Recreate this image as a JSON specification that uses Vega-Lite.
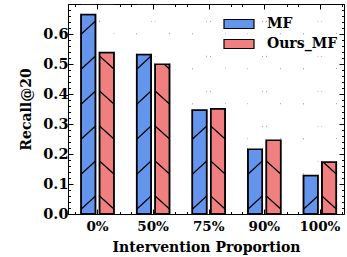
{
  "$schema": "https://vega.github.io/schema/vega-lite/v6.json",
  "width": 276,
  "height": 210,
  "autosize": {"type": "none"},
  "padding": {"left": 68, "top": 4, "right": 3, "bottom": 43},
  "config": {
    "font": "DejaVu Serif",
    "view": {"stroke": "black", "strokeWidth": 1},
    "axis": {"labelColor": "black", "titleColor": "black", "tickColor": "black", "domain": false, "grid": false, "labelFontWeight": "bold", "titleFontWeight": "bold", "labelFont": "DejaVu Serif", "titleFont": "DejaVu Serif", "zindex": 1}
  },
  "data": {
    "values": [
      {"proportion": "0%", "method": "MF", "recall": 0.665},
      {"proportion": "0%", "method": "Ours_MF", "recall": 0.538},
      {"proportion": "50%", "method": "MF", "recall": 0.532},
      {"proportion": "50%", "method": "Ours_MF", "recall": 0.499},
      {"proportion": "75%", "method": "MF", "recall": 0.347},
      {"proportion": "75%", "method": "Ours_MF", "recall": 0.351},
      {"proportion": "90%", "method": "MF", "recall": 0.216},
      {"proportion": "90%", "method": "Ours_MF", "recall": 0.246},
      {"proportion": "100%", "method": "MF", "recall": 0.128},
      {"proportion": "100%", "method": "Ours_MF", "recall": 0.173}
    ]
  },
  "layer": [
    {
      "encoding": {
        "x": {
          "field": "proportion", "type": "nominal",
          "sort": ["0%", "50%", "75%", "90%", "100%"],
          "scale": {"paddingInner": 0.41, "paddingOuter": 0.187, "align": 0.63},
          "axis": {"orient": "bottom", "ticks": false, "labelAngle": 0, "labelFontSize": 13.5, "labelPadding": 5, "title": "Intervention Proportion", "titleFontSize": 14, "titlePadding": 8}
        },
        "xOffset": {
          "field": "method", "type": "nominal", "sort": ["MF", "Ours_MF"],
          "scale": {"domain": ["MF", "Ours_MF"], "paddingInner": 0.22, "paddingOuter": 0}
        }
      },
      "layer": [
        {
          "mark": {"type": "bar", "stroke": "black", "strokeWidth": 1.5},
          "encoding": {
            "y": {
              "field": "recall", "type": "quantitative",
              "scale": {"domain": [0, 0.7], "nice": false},
              "axis": null
            },
            "fill": {
              "field": "method", "type": "nominal",
              "scale": {"domain": ["MF", "Ours_MF"], "range": ["#6495ED", "#F08080"]},
              "legend": {
                "orient": "none", "legendX": 160, "legendY": 9, "title": null, "padding": 0,
                "symbolType": "M-1.5,-0.45H1.5V0.45H-1.5Z", "symbolSize": 400,
                "symbolStrokeColor": "black", "symbolStrokeWidth": 1.2, "symbolOpacity": 1,
                "labelFontSize": 14, "labelFontWeight": "bold", "labelColor": "black", "labelFont": "DejaVu Serif",
                "labelOffset": 17, "rowPadding": 2
              }
            }
          }
        },
        {
          "transform": [{"filter": "datum.method == 'MF'"}],
          "mark": {"type": "point", "filled": false, "stroke": "black", "strokeWidth": 1.2, "size": 4, "opacity": 1,
                   "shape": "M-7.2,-4.7L7.2,-18M-7.2,-39.7L7.2,-53M-7.2,-74.7L7.2,-88M-7.2,-109.7L7.2,-123M-7.2,-144.7L7.2,-158M-7.2,-179.7L7.2,-193"},
          "encoding": {
            "y": {"datum": 0, "type": "quantitative", "axis": null}
          }
        },
        {
          "transform": [{"filter": "datum.method == 'Ours_MF'"}],
          "mark": {"type": "point", "filled": false, "stroke": "black", "strokeWidth": 1.2, "size": 4, "opacity": 1,
                   "shape": "M-7.2,-18L7.2,-5M-7.2,-53L7.2,-40M-7.2,-88L7.2,-75M-7.2,-123L7.2,-110M-7.2,-158L7.2,-145M-7.2,-193L7.2,-180"},
          "encoding": {
            "y": {"datum": 0, "type": "quantitative", "axis": null}
          }
        },
        {
          "mark": {"type": "bar", "fill": "white", "strokeWidth": 0},
          "encoding": {
            "y": {"field": "recall", "type": "quantitative", "axis": null},
            "y2": {"datum": 0.697}
          }
        },
        {
          "mark": {"type": "bar", "fillOpacity": 0, "stroke": "black", "strokeWidth": 1.5},
          "encoding": {
            "y": {"field": "recall", "type": "quantitative", "axis": null}
          }
        }
      ]
    },
    {
      "mark": {"type": "point", "opacity": 0},
      "encoding": {
        "x": {
          "field": "recall", "type": "quantitative",
          "scale": {"domain": [-0.53, 4.43], "nice": false, "zero": false},
          "axis": null
        },
        "y": {
          "field": "recall", "type": "quantitative",
          "scale": {"domain": [0, 0.7], "nice": false},
          "axis": {
            "orient": "left",
            "values": [0, 0.02, 0.04, 0.06, 0.08, 0.1, 0.12, 0.14, 0.16, 0.18, 0.2, 0.22, 0.24, 0.26, 0.28, 0.3, 0.32, 0.34, 0.36, 0.38, 0.4, 0.42, 0.44, 0.46, 0.48, 0.5, 0.52, 0.54, 0.56, 0.58, 0.6, 0.62, 0.64, 0.66, 0.68, 0.7],
            "labelExpr": "abs(datum.value*10 - round(datum.value*10)) < 0.001 && datum.value < 0.65 ? format(datum.value, '.1f') : ''",
            "tickSize": {"condition": {"test": "abs(datum.value*10 - round(datum.value*10)) < 0.001", "value": -5}, "value": -2.5},
            "labelOverlap": false,
            "labelFontSize": 14.5,
            "labelPadding": 5,
            "title": "Recall@20",
            "titleFontSize": 14,
            "titlePadding": 9
          }
        }
      }
    },
    {
      "mark": {"type": "point", "opacity": 0},
      "encoding": {
        "x": {
          "field": "recall", "type": "quantitative",
          "scale": {"domain": [-0.53, 4.43], "nice": false, "zero": false},
          "axis": {
            "orient": "top", "labels": false, "title": null,
            "values": [-0.4, -0.2, 0, 0.2, 0.4, 0.6, 0.8, 1, 1.2, 1.4, 1.6, 1.8, 2, 2.2, 2.4, 2.6, 2.8, 3, 3.2, 3.4, 3.6, 3.8, 4, 4.2, 4.4],
            "tickSize": {"condition": {"test": "abs(datum.value - round(datum.value)) < 0.001", "value": -5}, "value": -2.5}
          }
        },
        "y": {
          "field": "recall", "type": "quantitative",
          "scale": {"domain": [0, 0.7], "nice": false},
          "axis": {
            "orient": "right", "labels": false, "title": null,
            "values": [0, 0.02, 0.04, 0.06, 0.08, 0.1, 0.12, 0.14, 0.16, 0.18, 0.2, 0.22, 0.24, 0.26, 0.28, 0.3, 0.32, 0.34, 0.36, 0.38, 0.4, 0.42, 0.44, 0.46, 0.48, 0.5, 0.52, 0.54, 0.56, 0.58, 0.6, 0.62, 0.64, 0.66, 0.68, 0.7],
            "tickSize": {"condition": {"test": "abs(datum.value*10 - round(datum.value*10)) < 0.001", "value": -5}, "value": -2.5}
          }
        }
      }
    },
    {
      "mark": {"type": "point", "opacity": 0},
      "encoding": {
        "x": {
          "field": "recall", "type": "quantitative",
          "scale": {"domain": [-0.53, 4.43], "nice": false, "zero": false},
          "axis": {
            "orient": "bottom", "labels": false, "title": null,
            "values": [-0.4, -0.2, 0, 0.2, 0.4, 0.6, 0.8, 1, 1.2, 1.4, 1.6, 1.8, 2, 2.2, 2.4, 2.6, 2.8, 3, 3.2, 3.4, 3.6, 3.8, 4, 4.2, 4.4],
            "tickSize": {"condition": {"test": "abs(datum.value - round(datum.value)) < 0.001", "value": -5}, "value": -2.5}
          }
        },
        "y": {
          "field": "recall", "type": "quantitative",
          "scale": {"domain": [0, 0.7], "nice": false},
          "axis": null
        }
      }
    }
  ],
  "resolve": {
    "scale": {"x": "independent", "y": "independent"},
    "axis": {"x": "independent", "y": "independent"}
  }
}
